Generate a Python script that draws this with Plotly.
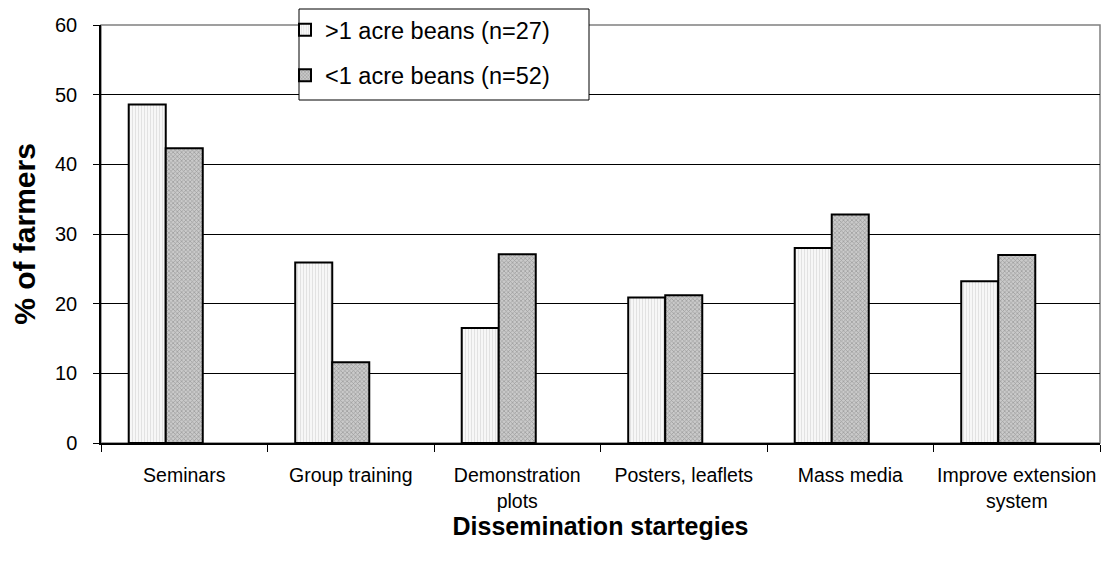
import plotly.graph_objects as go

categories = ["Seminars", "Group training", "Demonstration<br>plots", "Posters, leaflets",
              "Mass media", "Improve extension<br>system"]
series1_name = ">1 acre beans (n=27)"
series2_name = "<1 acre beans (n=52)"
series1 = [48.6, 25.9, 16.5, 20.9, 28.0, 23.2]
series2 = [42.3, 11.6, 27.1, 21.2, 32.8, 27.0]
empty_series = [None] * 6

FONT = "Liberation Sans, Arial, sans-serif"

# The page body has an 8px default margin, so the figure is sized/offset to compensate.
OFF = 8
W, H = 1110 - OFF, 565 - OFF
PLOT_L, PLOT_R, PLOT_T, PLOT_B = 101, 1100, 25, 443   # target screen pixels
ML = PLOT_L - OFF
MR = W - (PLOT_R - OFF)
MT = 0
MB = H - (PLOT_B - OFF)
PH = H - MT - MB
PW = W - ML - MR


def px_x(p):
    return (p - OFF - ML) / PW


def px_y(p):
    return (H - MB - (p - OFF)) / PH


fig = go.Figure()
fig.add_trace(go.Bar(
    x=categories, y=series1, name=series1_name, legendgroup="a",
    marker=dict(color="#f4f4f4", line=dict(color="black", width=2),
                pattern=dict(shape="|", fgcolor="#c8c8c8", bgcolor="#f7f7f7", size=3, solidity=0.3)),
))
fig.add_trace(go.Bar(
    x=categories, y=series2, name=series2_name, legendgroup="b",
    marker=dict(color="#b0b0b0", line=dict(color="black", width=2),
                pattern=dict(shape="x", fgcolor="#6a6a6a", bgcolor="#cacaca", size=3, solidity=0.4)),
))
fig.add_trace(go.Bar(x=categories, y=empty_series, showlegend=False, hoverinfo="skip"))

fig.update_layout(
    width=W, height=H,
    margin=dict(l=ML, r=MR, t=MT, b=MB),
    paper_bgcolor="white", plot_bgcolor="white",
    barmode="group", bargap=0.333, bargroupgap=0,
    font=dict(family=FONT, color="black", size=20),
    legend=dict(
        x=px_x(285), y=px_y(8), xanchor="left", yanchor="top",
        bgcolor="rgba(0,0,0,0)", borderwidth=0,
        font=dict(size=23.5, family=FONT), tracegroupgap=12, traceorder="grouped",
    ),
    shapes=[
        dict(type="rect", xref="x domain", yref="y domain", x0=0, x1=1, y0=0, y1=1,
             line=dict(color="#808080", width=1.5), layer="below"),
        dict(type="rect", xref="paper", yref="paper",
             x0=px_x(299), x1=px_x(589), y0=px_y(100), y1=px_y(9),
             line=dict(color="black", width=1), fillcolor="white", layer="above"),
    ],
)

fig.update_xaxes(
    type="category", showline=True, linecolor="black", linewidth=1.5,
    ticks="outside", tickson="boundaries", ticklen=7, tickcolor="black",
    tickangle=0, ticklabelstandoff=14,
    tickfont=dict(size=19.5, family=FONT), automargin=False,
    title=dict(text="<b>Dissemination startegies</b>", font=dict(size=25, family=FONT), standoff=1),
    showgrid=False,
)
fig.update_yaxes(
    range=[0, 60], dtick=10, showline=True, linecolor="black", linewidth=1.5,
    ticks="outside", ticklen=6, tickcolor="black", ticklabelstandoff=12,
    tickfont=dict(size=20, family=FONT), automargin=False,
    domain=[0, px_y(PLOT_T)],
    showgrid=True, gridcolor="black", gridwidth=1,
    zeroline=False,
    title=dict(text="<b>% of farmers</b>", font=dict(size=30, family=FONT), standoff=14),
)

fig.write_html("out.html")
